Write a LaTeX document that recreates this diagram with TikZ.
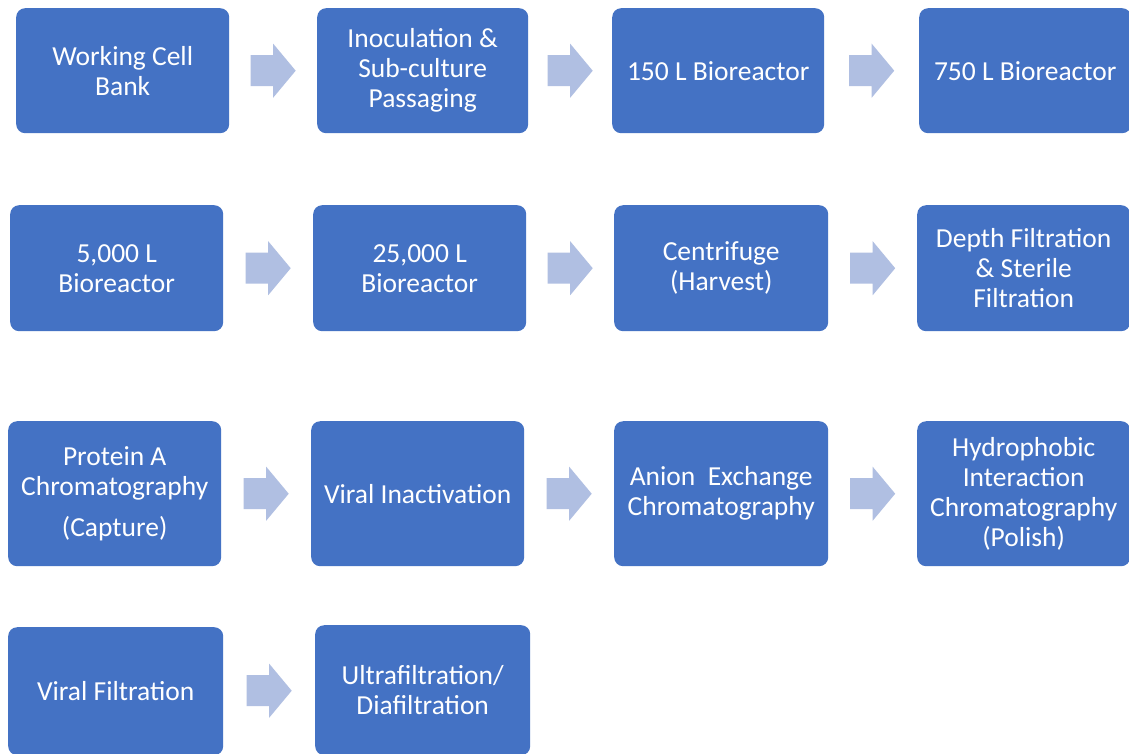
\documentclass[tikz,border=0pt]{standalone}
\usepackage{fontspec}
\setmainfont{Carlito}
\usetikzlibrary{calc}
\definecolor{boxblue}{HTML}{4472C4}
\definecolor{arrowblue}{HTML}{B0BFE2}
\tikzset{
  x=1pt,y=-1pt,
  stepbox/.style={fill=boxblue,draw=none,rounded corners=9pt,text=white,align=center,
    font=\fontsize{27.5}{30}\selectfont,anchor=north west,inner sep=0pt},
  barrow/.pic={\fill[arrowblue] (-22.5,-15.5) -- (0,-15.5) -- (0,-27) -- (22.5,0) -- (0,27) -- (0,15.5) -- (-22.5,15.5) -- cycle;}
}
\begin{document}
\begin{tikzpicture}
\useasboundingbox[fill=white] (0,0) rectangle (1129,753);
% row 1
\node[stepbox,minimum width=213pt,minimum height=125pt] (n1) at (16,8) {Working Cell\\Bank};
\node[stepbox,minimum width=211pt,minimum height=125pt] (n2) at (317,8) {Inoculation \&\\Sub-culture\\Passaging};
\node[stepbox,minimum width=212pt,minimum height=125pt] (n3) at (612,8) {150 L Bioreactor};
\node[stepbox,minimum width=212pt,minimum height=125pt] (n4) at (919,8) {750 L Bioreactor};
% row 2
\node[stepbox,minimum width=213pt,minimum height=126pt] (n5) at (10,205) {5,000 L\\Bioreactor};
\node[stepbox,minimum width=213pt,minimum height=126pt] (n6) at (313,205) {25,000 L\\Bioreactor};
\node[stepbox,minimum width=214pt,minimum height=126pt] (n7) at (614,205) {Centrifuge\\(Harvest)};
\node[stepbox,minimum width=213pt,minimum height=126pt] (n8) at (917,205) {Depth Filtration\\\& Sterile\\Filtration};
% row 3
\node[stepbox,minimum width=213pt,minimum height=145pt] (n9) at (8,421) {Protein A\\Chromatography\\[11pt](Capture)};
\node[stepbox,minimum width=213pt,minimum height=145pt] (n10) at (311,421) {Viral Inactivation};
\node[stepbox,minimum width=214pt,minimum height=145pt] (n11) at (614,421) {Anion~~Exchange\\Chromatography};
\node[stepbox,minimum width=213pt,minimum height=145pt] (n12) at (917,421) {Hydrophobic\\Interaction\\Chromatography\\(Polish)};
% row 4
\node[stepbox,minimum width=215pt,minimum height=128pt] (n13) at (8,627) {Viral Filtration};
\node[stepbox,minimum width=215pt,minimum height=130pt] (n14) at (315,625) {Ultrafiltration/\\Diafiltration};
% arrows
\foreach \a/\b in {n1/n2,n2/n3,n3/n4,n5/n6,n6/n7,n7/n8,n9/n10,n10/n11,n11/n12,n13/n14}
  \path ($(\a.east)!0.5!(\b.west)$) pic {barrow};
\end{tikzpicture}
\end{document}
